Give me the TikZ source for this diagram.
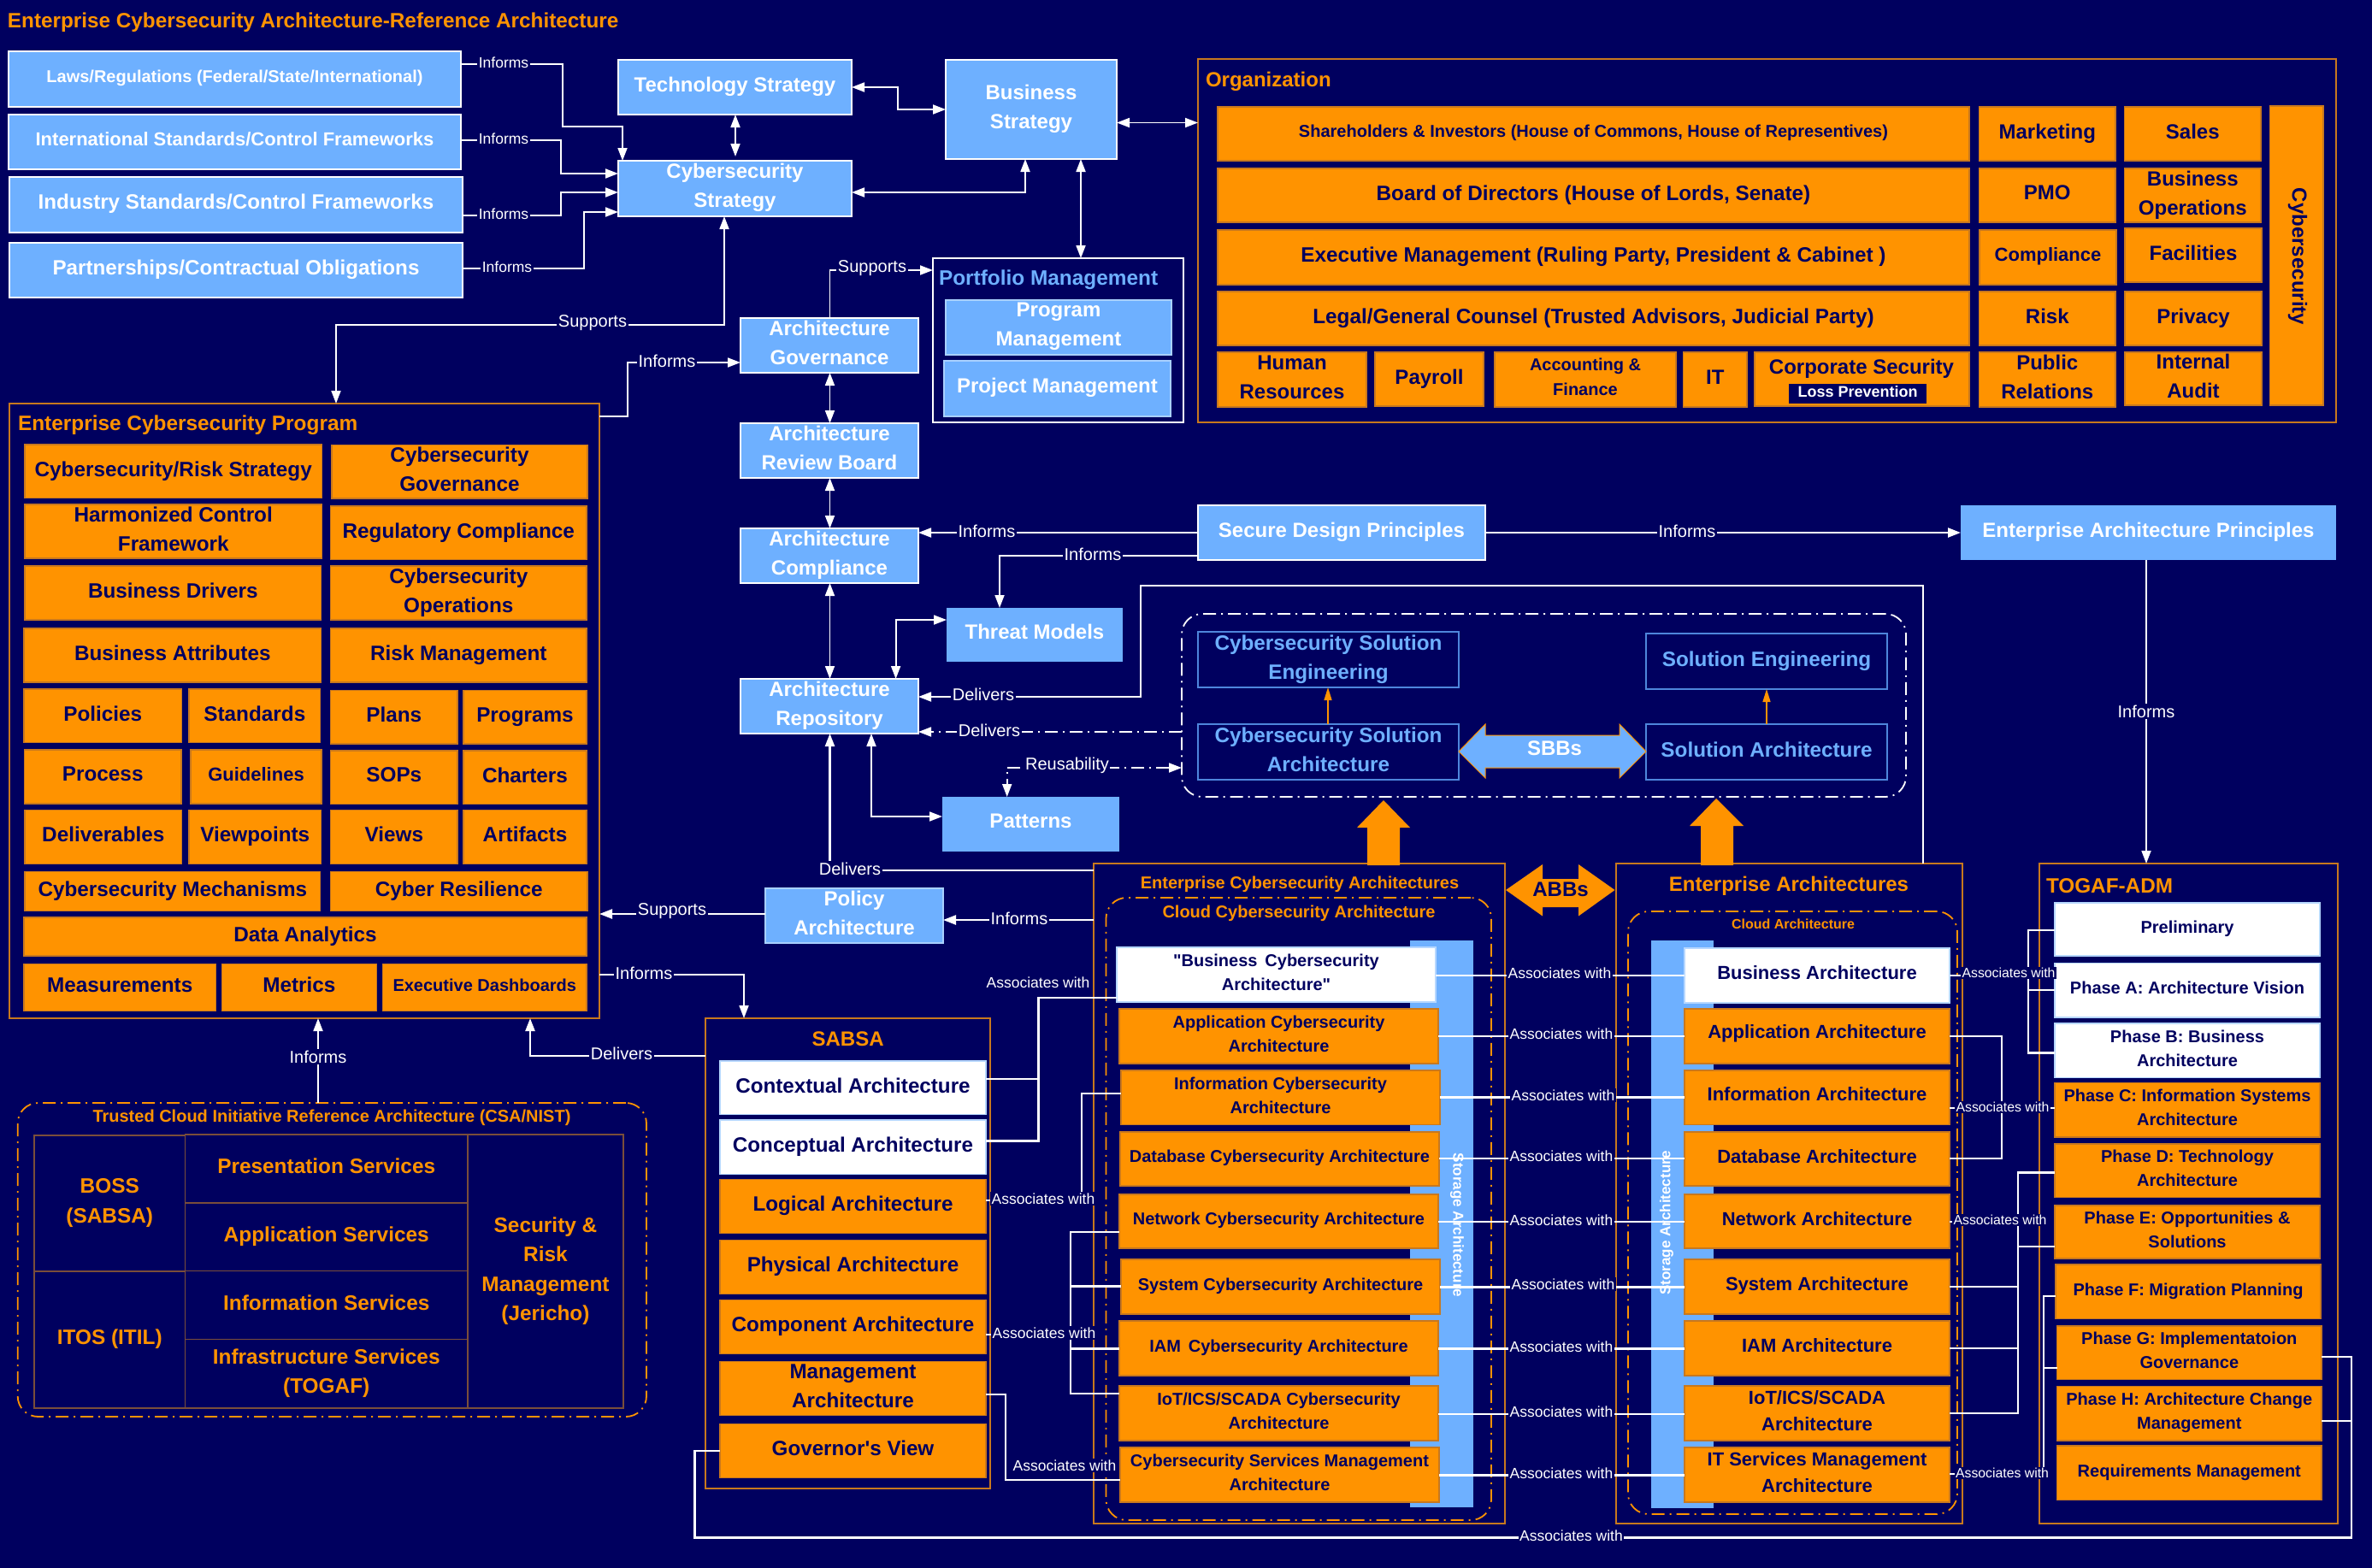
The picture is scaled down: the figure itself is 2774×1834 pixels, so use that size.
\documentclass[tikz,border=0pt]{standalone}
\usepackage{fontspec}
\setmainfont{Liberation Sans}[Ligatures=TeXOff]
\usetikzlibrary{arrows.meta}
\definecolor{bgc}{HTML}{00005F}
\definecolor{bluec}{HTML}{6EB0FF}
\definecolor{orc}{HTML}{FF9300}
\definecolor{ordk}{HTML}{C8781E}
\definecolor{cellc}{HTML}{7A4E3A}
\definecolor{solc}{HTML}{4E86DC}
\newcommand{\bx}[7]{\pgfmathsetmacro\bxw{#5-#3}\pgfmathsetmacro\bxh{#6-#4}\node[#1,minimum width=\bxw pt,minimum height=\bxh pt,anchor=north west] (#2) at (#3,#4) {#7};}
\tikzset{
 fs/.style 2 args={font=\fontsize{#1}{#2}\selectfont\bfseries},
 base/.style={inner sep=0pt,outer sep=0pt,align=center,text depth=6pt},
 bluebox/.style={base,text depth=7pt,fill=bluec,draw=white,line width=1.4pt,text=white,fs={24}{34}},
 blueflat/.style={base,text depth=7pt,fill=bluec,text=white,fs={24}{34}},
 orbox/.style={base,fill=orc,draw=ordk,line width=1.2pt,text=bgc,fs={#1}},
 whbox/.style={base,fill=white,draw=bluec!50!white,line width=1.2pt,text=bgc,fs={#1}},
 frame/.style={base,draw=ordk,line width=1.7pt},
 solbox/.style={base,draw=solc,line width=2pt,text=bluec,fs={24.3}{34}},
 cell/.style={base,draw=cellc,line width=1.4pt,text=orc,fs={24.4}{34.5}},
 dashor/.style={base,draw=orc,line width=1.8pt,rounded corners=24pt,dash pattern=on 15pt off 6pt on 2pt off 6pt},
 dashwh/.style={base,draw=white,line width=1.8pt,rounded corners=24pt,dash pattern=on 15pt off 6pt on 2pt off 6pt},
 ttl/.style={inner sep=0pt,outer sep=0pt,text=orc,fs={#1}{#1}},
 conn/.style={draw=white,line width=1.8pt},
 assoc/.style={draw=white,line width=2.3pt},
 dd/.style={conn,dash pattern=on 15pt off 6pt on 2pt off 6pt},
 tip/.style={-{Triangle[length=15pt,width=11pt]}},
 bi/.style={{Triangle[length=15pt,width=11pt]}-{Triangle[length=15pt,width=11pt]}},
 ortip/.style={draw=orc,line width=1.4pt,-{Triangle[length=15pt,width=9pt]}},
 lbl/.style={inner sep=1.5pt,outer sep=0pt,fill=bgc,text=white,font=\fontsize{17.5}{20}\selectfont},
 lbb/.style={lbl,font=\fontsize{20}{22}\selectfont},
 lbs/.style={lbl,font=\fontsize{15.8}{18}\selectfont},
 store/.style={inner sep=0pt,text=white,font=\fontsize{17}{20}\selectfont\bfseries},
}
\begin{document}
\begin{tikzpicture}[x=1pt,y=-1pt]
\fill[bgc] (0,0) rectangle (2774,1834);
\useasboundingbox (0,0) rectangle (2774,1834);
\node[ttl=24.3,anchor=west] (title) at (9,26) {Enterprise Cybersecurity Architecture-Reference Architecture};
% top-left
\bx{bluebox,fs={20}{24}}{laws}{10}{60}{539}{125}{Laws/Regulations (Federal/State/International)}
\bx{bluebox,fs={22}{24}}{intl}{10}{134}{539}{198}{International Standards/Control Frameworks}
\bx{bluebox,fs={24.2}{24}}{indu}{11}{207}{541}{272}{Industry Standards/Control Frameworks}
\bx{bluebox,fs={24.2}{24}}{part}{11}{284}{541}{348}{Partnerships/Contractual Obligations}
\bx{bluebox}{tech}{723}{70}{996}{134}{Technology Strategy}
\bx{bluebox}{cyst}{723}{188}{996}{253}{Cybersecurity\\Strategy}
\bx{bluebox}{bust}{1106}{70}{1306}{186}{Business\\Strategy}
\bx{bluebox}{agov}{866}{372}{1074}{436}{Architecture\\Governance}
\bx{bluebox}{arb}{866}{495}{1074}{559}{Architecture\\Review Board}
\bx{bluebox}{acom}{866}{618}{1074}{682}{Architecture\\Compliance}
\bx{bluebox}{arep}{866}{794}{1074}{858}{Architecture\\Repository}
\bx{blueflat}{threat}{1107}{711}{1313}{774}{Threat Models}
\bx{blueflat}{patterns}{1102}{932}{1309}{996}{Patterns}
\bx{bluebox,draw=bluec!60!white}{pol}{895}{1039}{1103}{1103}{Policy\\Architecture}
\bx{bluebox}{sdp}{1401}{591}{1737}{655}{Secure Design Principles}
\bx{blueflat}{eap}{2293}{591}{2732}{655}{Enterprise Architecture Principles}
% portfolio
\bx{base,draw=white,line width=1.6pt}{port}{1091}{302}{1384}{494}{}
\node[ttl=24.4,text=bluec,anchor=west] (portt) at (1098,327) {Portfolio Management};
\bx{bluebox,draw=bluec!60!white}{prog}{1106}{351}{1370}{415}{Program\\Management}
\bx{bluebox,draw=bluec!60!white}{proj}{1104}{422}{1369}{487}{Project Management}
% organization
\bx{frame}{org}{1401}{69}{2732}{494}{}
\node[ttl=24,anchor=west] (orgt) at (1410,95) {Organization};
\bx{orbox={20}{24}}{o1}{1424}{125}{2303}{188}{Shareholders \& Investors (House of Commons, House of Representives)}
\bx{orbox={24.3}{34}}{o2}{1424}{197}{2303}{260}{Board of Directors (House of Lords, Senate)}
\bx{orbox={24.3}{34}}{o3}{1424}{269}{2303}{333}{Executive Management (Ruling Party, President \& Cabinet )}
\bx{orbox={24.3}{34}}{o4}{1424}{341}{2303}{404}{Legal/General Counsel (Trusted Advisors, Judicial Party)}
\bx{orbox={24}{34}}{o5}{2314.5}{125}{2474}{188}{Marketing}
\bx{orbox={24}{34}}{o6}{2484.5}{125}{2644}{188}{Sales}
\bx{orbox={24}{34}}{o7}{2314.5}{197}{2474}{260}{PMO}
\bx{orbox={24}{34}}{o8}{2484.5}{197}{2644}{260}{Business\\Operations}
\bx{orbox={22}{34}}{o9}{2315}{269}{2475}{333}{Compliance}
\bx{orbox={24}{34}}{o10}{2485}{267}{2645}{330}{Facilities}
\bx{orbox={24}{34}}{o11}{2314.5}{341}{2474}{404}{Risk}
\bx{orbox={24}{34}}{o12}{2485}{341}{2645}{404}{Privacy}
\bx{orbox={24}{34}}{o13}{1424}{412}{1598}{476}{Human\\Resources}
\bx{orbox={24}{34}}{o14}{1608}{412}{1735}{475}{Payroll}
\bx{orbox={20}{29}}{o15}{1748}{412}{1960}{476}{Accounting \&\\Finance}
\bx{orbox={24}{34}}{o16}{1968.5}{412}{2043}{476}{IT}
\bx{orbox={24}{34}}{o17}{2052}{412}{2303}{475}{}
\node[inner sep=0pt,text=bgc,fs={24}{26}] (o17t) at (2177,431) {Corporate Security};
\bx{base,fill=bgc,text=white,fs={18}{20}}{o18}{2092}{449}{2253}{472}{Loss Prevention}
\bx{orbox={24}{34}}{o19}{2314.5}{412}{2474}{476}{Public\\Relations}
\bx{orbox={24}{34}}{o20}{2485}{412}{2645}{474}{Internal\\Audit}
\bx{orbox={24}{34}}{o21}{2654.5}{124}{2717}{474}{}
\node[rotate=-90,inner sep=0pt,text=bgc,fs={24}{26}] (o21t) at (2687,300) {Cybersecurity};
% program
\bx{frame}{ecp}{11}{472}{701}{1191}{}
\node[ttl=24.4,anchor=west] (ecpt) at (21,497) {Enterprise Cybersecurity Program};
\bx{orbox={24.3}{34}}{p1}{29}{520}{376.5}{582.5}{Cybersecurity/Risk Strategy}
\bx{orbox={24.3}{34}}{p2}{388}{520.5}{687}{583}{Cybersecurity\\Governance}
\bx{orbox={24.3}{34}}{p3}{29}{590}{376.5}{653}{Harmonized Control\\Framework}
\bx{orbox={24.3}{34}}{p4}{386.6}{592}{686}{654.6}{Regulatory Compliance}
\bx{orbox={24.3}{34}}{p5}{29}{662}{375.6}{725}{Business Drivers}
\bx{orbox={24.3}{34}}{p6}{386.6}{662}{686}{725}{Cybersecurity\\Operations}
\bx{orbox={24.3}{34}}{p7}{28}{735}{375.6}{798}{Business Attributes}
\bx{orbox={24.3}{34}}{p8}{386.6}{735}{686}{798}{Risk Management}
\bx{orbox={24.3}{34}}{p9}{28}{806}{212.6}{868.5}{Policies}
\bx{orbox={24.3}{34}}{p10}{221}{806}{374.7}{868.5}{Standards}
\bx{orbox={24.3}{34}}{p11}{386.6}{807.5}{535}{870}{Plans}
\bx{orbox={24.3}{34}}{p12}{542}{807.5}{686}{870}{Programs}
\bx{orbox={24.3}{34}}{p13}{28.5}{877}{212}{940}{Process}
\bx{orbox={22}{34}}{p14}{223}{877}{376}{940}{Guidelines}
\bx{orbox={24.3}{34}}{p15}{386.6}{878}{535}{940.6}{SOPs}
\bx{orbox={24.3}{34}}{p16}{542}{878}{686}{940.6}{Charters}
\bx{orbox={24.3}{34}}{p17}{29}{947.5}{212.6}{1010.4}{Deliverables}
\bx{orbox={24.3}{34}}{p18}{221}{947.5}{375.6}{1010.4}{Viewpoints}
\bx{orbox={24.3}{34}}{p19}{386.6}{947.5}{535}{1010.4}{Views}
\bx{orbox={24.3}{34}}{p20}{542}{947.5}{686}{1010.4}{Artifacts}
\bx{orbox={24.3}{34}}{p21}{29}{1019.6}{374.7}{1065.5}{Cybersecurity Mechanisms}
\bx{orbox={24.3}{34}}{p22}{386.6}{1019.6}{687}{1065.5}{Cyber Resilience}
\bx{orbox={24.3}{34}}{p23}{28}{1073}{686}{1118}{Data Analytics}
\bx{orbox={24.3}{34}}{p24}{28}{1127.5}{252.5}{1182.6}{Measurements}
\bx{orbox={24.3}{34}}{p25}{259.4}{1127.5}{440.3}{1182.6}{Metrics}
\bx{orbox={20}{34}}{p26}{447.6}{1127.5}{686}{1182.6}{Executive Dashboards}
% trusted
\bx{dashor}{tci}{20.7}{1290}{756}{1657}{}
\node[ttl=20] (tcit) at (388,1307) {Trusted Cloud Initiative Reference Architecture (CSA/NIST)};
\bx{cell}{c1}{40}{1328}{216.5}{1487}{BOSS\\(SABSA)}
\bx{cell}{c2}{40}{1487}{216.5}{1647}{ITOS (ITIL)}
\bx{cell}{c3}{216.5}{1327}{547}{1407}{Presentation Services}
\bx{cell}{c4}{216.5}{1407}{547}{1486.6}{Application Services}
\bx{cell}{c5}{216.5}{1486.6}{547}{1566.7}{Information Services}
\bx{cell}{c6}{216.5}{1566.7}{547}{1647}{Infrastructure Services\\(TOGAF)}
\bx{cell}{c7}{547}{1327}{729}{1647}{Security \&\\Risk\\Management\\(Jericho)}
% SABSA
\bx{frame}{sab}{825}{1191}{1158}{1741}{}
\node[ttl=24] (sabt) at (991.6,1215) {SABSA};
\bx{whbox={24.2}{34}}{s1}{842}{1241}{1153}{1303.5}{Contextual Architecture}
\bx{whbox={24.2}{34}}{s2}{842}{1310}{1153}{1373.6}{Conceptual Architecture}
\bx{orbox={24.2}{34}}{s3}{842}{1379.6}{1153}{1442.4}{Logical Architecture}
\bx{orbox={24.2}{34}}{s4}{842}{1450.6}{1153}{1513.4}{Physical Architecture}
\bx{orbox={24.2}{34}}{s5}{842}{1520.7}{1153}{1583.6}{Component Architecture}
\bx{orbox={24.2}{34}}{s6}{842}{1592.7}{1153}{1655.5}{Management\\Architecture}
\bx{orbox={24.2}{34}}{s7}{842}{1665.5}{1153}{1728.4}{Governor's View}
% solutions
\bx{dashwh}{sol}{1382}{718}{2229}{932}{}
\bx{solbox}{se1}{1401}{739}{1706}{804}{Cybersecurity Solution\\Engineering}
\bx{solbox}{se2}{1925}{741}{2207}{806}{Solution Engineering}
\bx{solbox}{sa1}{1401}{847}{1706}{912}{Cybersecurity Solution\\Architecture}
\bx{solbox}{sa2}{1925}{847}{2207}{912}{Solution Architecture}
\draw[ortip] (sa1.north -| 1553,0) -- (se1.south -| 1553,0);
\draw[ortip] (sa2.north -| 2066,0) -- (se2.south -| 2066,0);
\filldraw[fill=bluec,draw=orc,line width=1pt] (1706,879) -- (1737,847) -- (1737,860) -- (1894,860) -- (1894,847) -- (1925,879) -- (1894,910) -- (1894,898) -- (1737,898) -- (1737,910) -- cycle;
\node[inner sep=0pt,text=white,fs={24}{30}] (sbb) at (1818,875) {SBBs};
% ECA
\bx{frame}{eca}{1279}{1010}{1760}{1782}{}
\node[ttl=20] (ecat) at (1520,1034) {Enterprise Cybersecurity Architectures};
\bx{dashor}{ecac}{1293.5}{1050}{1744}{1778}{}
\node[ttl=20] (ecact) at (1519,1068) {Cloud Cybersecurity Architecture};
\bx{base,fill=bluec}{st1}{1649}{1100}{1723}{1763}{}
\bx{whbox={20}{28}}{e1}{1306}{1108}{1679}{1172}{"Business\, Cybersecurity\\Architecture"}
\bx{orbox={20}{28}}{e2}{1309}{1180}{1682}{1244}{Application Cybersecurity\\Architecture}
\bx{orbox={20}{28}}{e3}{1311}{1252}{1684}{1315.5}{Information Cybersecurity\\Architecture}
\bx{orbox={20}{28}}{e4}{1310}{1324}{1683}{1387}{Database Cybersecurity Architecture}
\bx{orbox={20}{28}}{e5}{1309}{1397}{1682}{1460}{Network Cybersecurity Architecture}
\bx{orbox={20}{28}}{e6}{1311}{1473}{1684}{1537}{System Cybersecurity Architecture}
\bx{orbox={20}{28}}{e7}{1309}{1545}{1682}{1609}{IAM\, Cybersecurity Architecture}
\bx{orbox={20}{28}}{e8}{1309}{1621}{1682}{1685}{IoT/ICS/SCADA Cybersecurity\\Architecture}
\bx{orbox={20}{28}}{e9}{1310}{1693}{1683}{1757}{Cybersecurity Services Management\\Architecture}
% EA
\bx{frame}{ea}{1890}{1010}{2295}{1782}{}
\node[ttl=24] (eat) at (2092,1036) {Enterprise Architectures};
\bx{dashor}{eac}{1904}{1066}{2289}{1771}{}
\node[ttl=16] (eact) at (2097,1081) {Cloud Architecture};
\bx{base,fill=bluec}{st2}{1931}{1100}{2004}{1764}{}
\bx{whbox={22}{31.5}}{a1}{1970}{1109}{2280}{1173}{Business Architecture}
\bx{orbox={22}{31.5},text depth=10pt}{a2}{1970}{1180}{2280}{1244}{Application Architecture}
\bx{orbox={22}{31.5},text depth=8pt}{a3}{1970}{1252}{2280}{1315.5}{Information Architecture}
\bx{orbox={22}{31.5}}{a4}{1970}{1324}{2280}{1387}{Database Architecture}
\bx{orbox={22}{31.5}}{a5}{1970}{1397}{2280}{1460}{Network Architecture}
\bx{orbox={22}{31.5}}{a6}{1970}{1473}{2280}{1537}{System Architecture}
\bx{orbox={22}{31.5}}{a7}{1970}{1545}{2280}{1609}{IAM Architecture}
\bx{orbox={22}{31.5}}{a8}{1970}{1621}{2280}{1685}{IoT/ICS/SCADA\\Architecture}
\bx{orbox={22}{31.5}}{a9}{1970}{1693}{2280}{1757}{IT Services Management\\Architecture}
% TOGAF
\bx{frame}{tog}{2385}{1010}{2734}{1782}{}
\node[ttl=24.3,anchor=west] (togt) at (2393,1036) {TOGAF-ADM};
\bx{whbox={20}{28}}{t1}{2403}{1056}{2713}{1118}{Preliminary}
\bx{whbox={20}{28}}{t2}{2403}{1126.5}{2713}{1190}{Phase A: Architecture Vision}
\bx{whbox={20}{28}}{t3}{2403}{1197}{2713}{1260.5}{Phase B: Business\\Architecture}
\bx{orbox={20}{28}}{t4}{2403}{1266.5}{2713}{1330}{Phase C: Information Systems\\Architecture}
\bx{orbox={20}{28}}{t5}{2403}{1338}{2713}{1400.5}{Phase D: Technology\\Architecture}
\bx{orbox={20}{28}}{t6}{2403}{1410}{2713}{1472}{Phase E: Opportunities \&\\Solutions}
\bx{orbox={20}{28}}{t7}{2404}{1479}{2714}{1542.6}{Phase F: Migration Planning}
\bx{orbox={20}{28}}{t8}{2405.6}{1551}{2715}{1613.5}{Phase G: Implementatoion\\Governance}
\bx{orbox={20}{28}}{t9}{2405.6}{1621.6}{2715}{1685}{Phase H: Architecture Change\\Management}
\bx{orbox={20}{28}}{t10}{2405.6}{1691}{2715}{1754.5}{Requirements Management}
% block arrows
\fill[orc] (1618,936) -- (1649,968) -- (1637,968) -- (1637,1012) -- (1599,1012) -- (1599,968) -- (1587,968) -- cycle;
\fill[orc] (2007,934) -- (2039,966) -- (2027,966) -- (2027,1012) -- (1989,1012) -- (1989,966) -- (1976,966) -- cycle;
\fill[orc] (1761,1041) -- (1804,1011) -- (1804,1028) -- (1846,1028) -- (1846,1011) -- (1888.5,1041) -- (1846,1071.5) -- (1846,1061) -- (1804,1061) -- (1804,1071.5) -- cycle;
\node[inner sep=0pt,text=bgc,fs={24}{30}] (abb) at (1825,1040) {ABBs};
% connectors top
\draw[conn,tip] (laws.east |- 0,75) -- (658,75) -- (658,148) -- (728,148) -- (cyst.north -| 728,0);
\draw[conn,tip] (intl.east |- 0,164) -- (656,164) -- (656,203) -- (cyst.west |- 0,203);
\draw[conn,tip] (indu.east |- 0,252) -- (656,252) -- (656,225) -- (cyst.west |- 0,225);
\draw[conn,tip] (part.east |- 0,314) -- (683,314) -- (683,248) -- (cyst.west |- 0,248);
\draw[conn,bi] (tech.east |- 0,102) -- (1050,102) -- (1050,128) -- (bust.west |- 0,128);
\draw[conn,bi] (tech.south -| 860,0) -- (860,183);
\draw[conn,bi] (bust.east |- 0,143.5) -- (org.west |- 0,143.5);
\draw[conn,bi] (cyst.east |- 0,225) -- (1199,225) -- (bust.south -| 1199,0);
\draw[conn,bi] (bust.south -| 1264,0) -- (port.north -| 1264,0);
\draw[conn,bi] (cyst.south -| 847,0) -- (847,380) -- (393,380) -- (ecp.north -| 393,0);
\draw[conn,tip] (agov.north -| 970.5,0) -- (970.5,316) -- (port.west |- 0,316);
\draw[conn,tip] (ecp.east |- 0,487) -- (734,487) -- (734,424) -- (agov.west |- 0,424);
\draw[conn,bi] (agov.south -| 970.5,0) -- (arb.north -| 970.5,0);
\draw[conn,bi] (arb.south -| 970.5,0) -- (acom.north -| 970.5,0);
\draw[conn,bi] (acom.south -| 970.5,0) -- (arep.north -| 970.5,0);
\draw[conn,tip] (sdp.west |- 0,623) -- (acom.east |- 0,623);
\draw[conn,tip] (sdp.west |- 0,650) -- (1169,650) -- (threat.north -| 1169,0);
\draw[conn,bi] (threat.west |- 0,725) -- (1047.6,725) -- (arep.north -| 1047.6,0);
\draw[conn,tip] (ea.north -| 2249,0) -- (2249,685) -- (1334,685) -- (1334,815) -- (arep.east |- 0,815);
\draw[dd,tip] (sol.west |- 0,856) -- (arep.east |- 0,856);
\draw[dd,bi] (sol.west |- 0,898) -- (1177.7,898) -- (patterns.north -| 1177.7,0);
\draw[conn,bi] (arep.south -| 1019,0) -- (1019,955) -- (patterns.west |- 0,955);
\draw[assoc,tip] (eca.west |- 0,1018) -- (970.5,1018) -- (arep.south -| 970.5,0);
\draw[assoc,tip] (eca.west |- 0,1076) -- (pol.east |- 0,1076);
\draw[assoc,tip] (pol.west |- 0,1069) -- (ecp.east |- 0,1069);
\draw[assoc,tip] (sdp.east |- 0,623) -- (eap.west |- 0,623);
\draw[conn,tip] (eap.south -| 2510,0) -- (tog.north -| 2510,0);
\draw[conn,tip] (ecp.east |- 0,1140) -- (870,1140) -- (sab.north -| 870,0);
\draw[assoc,tip] (sab.west |- 0,1235) -- (620,1235) -- (ecp.south -| 620,0);
\draw[conn,tip] (tci.north -| 372,0) -- (ecp.south -| 372,0);
% SABSA to ECA
\draw[assoc] (s1.east |- 0,1262) -- (1214.4,1262) -- (1214.4,1167) -- (e1.west |- 0,1167);
\draw[assoc] (s2.east |- 0,1334.6) -- (1214.4,1334.6) -- (1214.4,1262);
\draw[assoc] (s3.east |- 0,1404) -- (1265,1404) -- (1265,1279) -- (e3.west |- 0,1279);
\draw[assoc] (s5.east |- 0,1561) -- (1252,1561);
\draw[assoc] (e5.west |- 0,1441) -- (1252,1441) -- (1252,1630) -- (e8.west |- 0,1630);
\draw[assoc] (e6.west |- 0,1504.5) -- (1252,1504.5);
\draw[assoc] (e7.west |- 0,1577.5) -- (1252,1577.5);
\draw[assoc] (s6.east |- 0,1631) -- (1176,1631) -- (1176,1731) -- (e9.west |- 0,1731);
\draw[assoc] (s7.west |- 0,1697) -- (812.5,1697) -- (812.5,1798.5) -- (2750,1798.5) -- (2750,1587) -- (t8.east |- 0,1587);
\draw[assoc] (t9.east |- 0,1662) -- (2750,1662);
% ECA to EA
\draw[assoc] (e1.east |- 0,1141) -- (a1.west |- 0,1141);
\draw[assoc] (e2.east |- 0,1212) -- (a2.west |- 0,1212);
\draw[assoc] (e3.east |- 0,1283.4) -- (a3.west |- 0,1283.4);
\draw[assoc] (e4.east |- 0,1355) -- (a4.west |- 0,1355);
\draw[assoc] (e5.east |- 0,1429) -- (a5.west |- 0,1429);
\draw[assoc] (e6.east |- 0,1505.6) -- (a6.west |- 0,1505.6);
\draw[assoc] (e7.east |- 0,1577.5) -- (a7.west |- 0,1577.5);
\draw[assoc] (e8.east |- 0,1653.7) -- (a8.west |- 0,1653.7);
\draw[assoc] (e9.east |- 0,1725.6) -- (a9.west |- 0,1725.6);
% EA to TOGAF
\draw[assoc] (a1.east |- 0,1141) -- (2372,1141);
\draw[assoc] (t1.west |- 0,1088) -- (2372,1088) -- (2372,1231.6) -- (t3.west |- 0,1231.6);
\draw[assoc] (t2.west |- 0,1158) -- (2372,1158);
\draw[assoc] (a2.east |- 0,1212) -- (2341,1212) -- (2341,1354.7) -- (a4.east |- 0,1354.7);
\draw[assoc] (a3.east |- 0,1296) -- (t4.west |- 0,1296);
\draw[assoc] (a5.east |- 0,1429) -- (2360,1429);
\draw[assoc] (t5.west |- 0,1371.6) -- (2360,1371.6) -- (2360,1653) -- (a8.east |- 0,1653);
\draw[assoc] (t6.west |- 0,1457.7) -- (2360,1457.7);
\draw[assoc] (a6.east |- 0,1505) -- (2360,1505);
\draw[assoc] (a7.east |- 0,1577) -- (2360,1577);
\draw[assoc] (a9.east |- 0,1724) -- (2390,1724);
\draw[assoc] (t7.west |- 0,1516) -- (2390,1516) -- (2390,1724);
\draw[assoc] (t8.west |- 0,1600) -- (2390,1600);
% storage text
\node[store,rotate=-90] (st1t) at (1704,1433) {Storage Architecture};
\node[store,rotate=90] (st2t) at (1949,1430.5) {Storage Architecture};
% labels
\node[lbl] (l1) at (589,73) {Informs};
\node[lbl] (l2) at (589,162) {Informs};
\node[lbl] (l3) at (589,250) {Informs};
\node[lbl] (l4) at (593,312) {Informs};
\node[lbb] (l5) at (693,378) {Supports};
\node[lbb] (l6) at (1020,314) {Supports};
\node[lbb] (l7) at (780,422) {Informs};
\node[lbb] (l8) at (1154,621) {Informs};
\node[lbb] (l9) at (1278,648) {Informs};
\node[lbb] (l10) at (1150,812) {Delivers};
\node[lbb] (l11) at (1157,854) {Delivers};
\node[lbb] (l12) at (1248,895) {Reusability};
\node[lbb] (l13) at (994,1016) {Delivers};
\node[lbb] (l14) at (1192,1074) {Informs};
\node[lbb] (l15) at (786,1066) {Supports};
\node[lbb] (l16) at (1973,621) {Informs};
\node[lbb] (l17) at (2510,832) {Informs};
\node[lbb] (l18) at (753,1138) {Informs};
\node[lbb] (l19) at (727,1232) {Delivers};
\node[lbb] (l20) at (372,1236) {Informs};
\node[lbl] (l21) at (1214,1149) {Associates with};
\node[lbl] (l22) at (1220,1402) {Associates with};
\node[lbl] (l23) at (1221,1559) {Associates with};
\node[lbl] (l24) at (1245,1714) {Associates with};
\node[lbl] (l25) at (1837.5,1796) {Associates with};
\node[lbl] (m1) at (1824,1138) {Associates with};
\node[lbl] (m2) at (1826,1209) {Associates with};
\node[lbl] (m3) at (1828,1281) {Associates with};
\node[lbl] (m4) at (1826,1352) {Associates with};
\node[lbl] (m5) at (1826,1427) {Associates with};
\node[lbl] (m6) at (1828,1502) {Associates with};
\node[lbl] (m7) at (1826,1575) {Associates with};
\node[lbl] (m8) at (1826,1651) {Associates with};
\node[lbl] (m9) at (1826,1723) {Associates with};
\node[lbs] (r1) at (2349,1138) {Associates with};
\node[lbs] (r2) at (2342,1295) {Associates with};
\node[lbs] (r3) at (2339,1427) {Associates with};
\node[lbs] (r4) at (2341.5,1723) {Associates with};
\end{tikzpicture}
\end{document}
